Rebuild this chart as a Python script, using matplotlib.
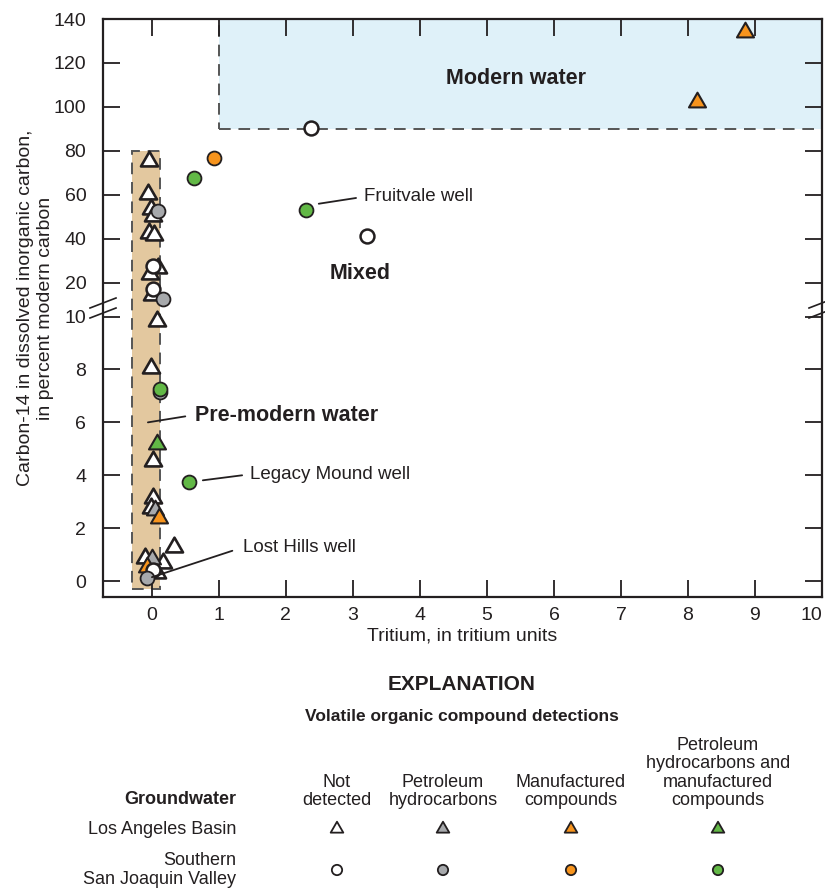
import numpy as np
import matplotlib
matplotlib.use("Agg")
import matplotlib.pyplot as plt
from matplotlib.patches import Rectangle
from matplotlib.path import Path

FONT = ['Liberation Sans', 'DejaVu Sans']
plt.rcParams['font.family'] = FONT

# ---------------- data ----------------
la_none_x = [-0.05, -0.06, -0.01, 0.01, -0.04, 0.03, 0.09, -0.03, 0.00, 0.07, -0.02, 0.01, 0.02, -0.02, 0.33, -0.10, 0.17, 0.07]
la_none_y = [75.2, 60.2, 53.5, 50.5, 42.7, 41.8, 26.8, 24.1, 16.2, 9.85, 8.04, 4.53, 3.13, 2.75, 1.28, 0.87, 0.68, 0.30]
la_pet_x = [0.05, 0.00]
la_pet_y = [2.68, 0.85]
la_man_x = [8.85, 8.13, 0.10, -0.07]
la_man_y = [134.0, 102.3, 2.38, 0.52]
la_both_x = [0.07]
la_both_y = [5.17]
sj_none_x = [2.38, 3.21, 0.02, 0.02, 0.02]
sj_none_y = [90.5, 41.4, 27.7, 18.2, 0.42]
sj_pet_x = [0.09, 0.16, 0.12, -0.07]
sj_pet_y = [52.7, 15.3, 7.13, 0.10]
sj_man_x = [0.93]
sj_man_y = [76.8]
sj_both_x = [0.63, 2.30, 0.12, 0.55]
sj_both_y = [67.7, 53.2, 7.28, 3.74]

x_ticks = list(range(0, 11))
y_ticks = [0, 2, 4, 6, 8, 10, 20, 40, 60, 80, 100, 120, 140]

WHITE, GREY, ORANGE, GREEN = '#ffffff', '#a7a9ac', '#f7941d', '#62b846'
BLUE_FILL, TAN_FILL = '#dff1f9', '#e3c89f'
TC = '#231f20'

# broken (piecewise-linear) y scale
_yb = np.array([-10.0, 10.0, 20.0, 200.0])
_pb = np.array([-265.0, 265.0, 299.0, 299.0 + 180 * 2.2])
def fwd(y):
    return np.interp(y, _yb, _pb)
def inv(p):
    return np.interp(p, _pb, _yb)

TRI = Path([(0, 0.577), (-0.5, -0.289), (0.5, -0.289), (0, 0.577)], closed=True)

fig = plt.figure(figsize=(8.25, 8.91), dpi=100)
ax = fig.add_axes([103/825, 1 - 597/891, (822-103)/825, (597-19)/891])
ax.set_yscale('function', functions=(fwd, inv))
ax.set_xlim(-0.73, 10.0)
ax.set_ylim(-0.6, 140)

# shaded regions
dash = dict(linestyle=(0, (6, 4)), edgecolor='#555555', linewidth=1.4)
ax.add_patch(Rectangle((1.0, 90), 9.0, 50, facecolor=BLUE_FILL, zorder=0, **dash))
ax.add_patch(Rectangle((-0.30, -0.3), 0.42, 80.3, facecolor=TAN_FILL, zorder=0, **dash))

tri_kw = dict(marker=TRI, s=200, edgecolors=TC, linewidths=1.5, zorder=3)
cir_kw = dict(marker='o', s=100, edgecolors=TC, linewidths=1.3, zorder=4)
ax.scatter(la_none_x, la_none_y, c=WHITE, **{**tri_kw, 'linewidths': 1.9})
ax.scatter(la_pet_x, la_pet_y, c=GREY, **tri_kw)
ax.scatter(la_man_x, la_man_y, c=ORANGE, **tri_kw)
ax.scatter(la_both_x, la_both_y, c=GREEN, **tri_kw)
ax.scatter(sj_none_x, sj_none_y, c=WHITE, **{**cir_kw, 'linewidths': 1.8})
ax.scatter(sj_pet_x, sj_pet_y, c=GREY, **cir_kw)
ax.scatter(sj_man_x, sj_man_y, c=ORANGE, **cir_kw)
ax.scatter(sj_both_x, sj_both_y, c=GREEN, **cir_kw)

# ticks
ax.set_xticks(x_ticks)
ax.set_yticks(y_ticks)
ax.set_xticklabels([str(t) for t in x_ticks])
ax.set_yticklabels([str(t) for t in y_ticks])
ax.tick_params(axis='both', direction='in', length=12, width=1.3, color=TC,
               labelsize=14, labelcolor=TC)
ax.tick_params(axis='x', top=True, pad=7)
ax.tick_params(axis='y', right=True, pad=12)
ax.minorticks_off()
last = ax.get_xticklabels()[-1]
last.set_horizontalalignment('right')
for s in ax.spines.values():
    s.set_linewidth(1.6)
    s.set_color(TC)

ax.set_xlabel('Tritium, in tritium units', fontsize=14, color=TC, labelpad=3)
ax.set_ylabel('Carbon-14 in dissolved inorganic carbon,\nin percent modern carbon',
              fontsize=14, color=TC, linespacing=1.25)
ax.yaxis.set_label_coords(-0.068, 0.5)

# axis break marks
pos = ax.get_position()
for xa in (0.0, 1.0):
    x0 = pos.x0 + xa * pos.width
    for yo in (0, 10):
        y1 = 1 - (308 + yo) / 891
        y2 = 1 - (298 + yo) / 891
        fig.add_artist(plt.Line2D([x0 - 13/825, x0 + 13/825], [y1, y2],
                                  transform=fig.transFigure, color=TC, lw=1.2))

# region labels
ax.text(5.43, 112.7, 'Modern water', fontsize=15.5, fontweight='bold', ha='center', va='center', color=TC)
ax.text(3.1, 24.1, 'Mixed', fontsize=15.5, fontweight='bold', ha='center', va='center', color=TC)
ax.text(0.64, 6.26, 'Pre-modern water', fontsize=15.5, fontweight='bold', ha='left', va='center', color=TC)

ann = dict(arrowstyle='-', color=TC, lw=1.3, shrinkA=4, shrinkB=0)
ax.annotate('', xy=(-0.06, 6.0), xytext=(0.58, 6.26), arrowprops=ann)
ax.annotate('Fruitvale well', xy=(2.49, 55.9), xytext=(3.17, 59.1), fontsize=13.5, va='center',
            color=TC, arrowprops={**ann, 'relpos': (0, 0.5)})
ax.annotate('Legacy Mound well', xy=(0.76, 3.81), xytext=(1.47, 4.04), fontsize=13.5, va='center',
            color=TC, arrowprops={**ann, 'relpos': (0, 0.5)})
ax.annotate('Lost Hills well', xy=(0.0, 0.15), xytext=(1.36, 1.28), fontsize=13.5, va='center',
            color=TC, arrowprops={**ann, 'relpos': (0, 0.5), 'shrinkA': 6}, zorder=5)

# ---------------- explanation ----------------
lg = fig.add_axes([0, 0, 1, 1], facecolor='none')
lg.set_xlim(0, 825)
lg.set_ylim(891, 0)
lg.axis('off')
lg.text(462, 685, 'EXPLANATION', fontsize=15, fontweight='bold', ha='center', va='center', color=TC)
lg.text(462, 716, 'Volatile organic compound detections', fontsize=12.5, fontweight='bold',
        ha='center', va='center', color=TC)
col_x = [337, 443, 571, 718]
col_heads = ['Not\ndetected', 'Petroleum\nhydrocarbons', 'Manufactured\ncompounds',
             'Petroleum\nhydrocarbons and\nmanufactured\ncompounds']
for cx, head in zip(col_x, col_heads):
    lg.text(cx, 809, head, fontsize=13, ha='center', va='bottom', color=TC, linespacing=1.1)
lg.text(236, 800, 'Groundwater', fontsize=13, fontweight='bold', ha='right', va='center', color=TC)
lg.text(236, 829, 'Los Angeles Basin', fontsize=13, ha='right', va='center', color=TC)
lg.text(236, 870, 'Southern\nSan Joaquin Valley', fontsize=13, ha='right', va='center', color=TC, linespacing=1.1)
fills = [WHITE, GREY, ORANGE, GREEN]
lg.scatter(col_x, [829] * 4, c=fills, marker=TRI, s=110, edgecolors=TC, linewidths=1.3)
lg.scatter(col_x, [870] * 4, c=fills, marker='o', s=55, edgecolors=TC, linewidths=1.3)

fig.savefig('out.png', dpi=100)
